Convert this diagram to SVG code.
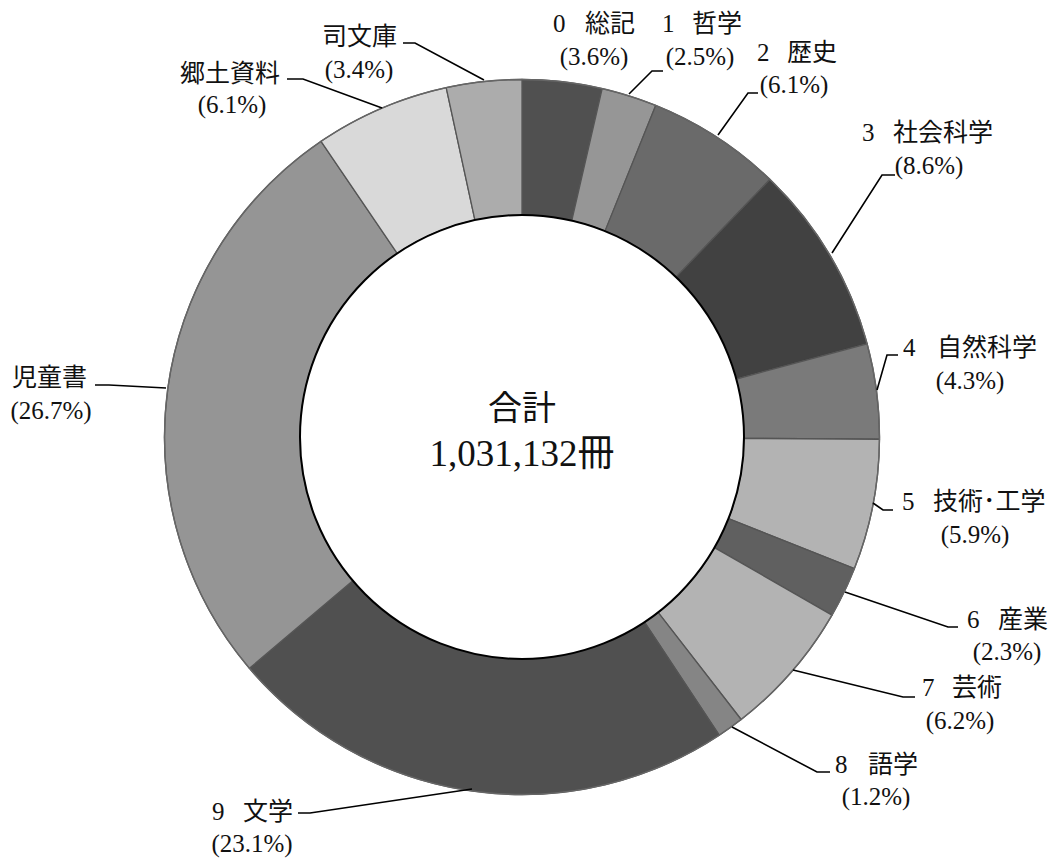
<svg xmlns="http://www.w3.org/2000/svg" width="1057" height="859" viewBox="0 0 1057 859">
<style>
.s{stroke:#555;stroke-width:1.3;stroke-linejoin:round}
.t{font-family:"Liberation Serif","Noto Sans CJK JP",serif;font-size:25px;fill:#111}
.p{font-family:"Liberation Serif","Noto Sans CJK JP",serif;font-size:25px;fill:#111;text-anchor:middle}
.c{font-family:"Liberation Serif","Noto Sans CJK JP",serif;fill:#111;text-anchor:middle}
.ld{fill:none;stroke:#000;stroke-width:1.6}
</style>
<rect width="1057" height="859" fill="#fff"/>
<g id="slice-0">
<path class="s" fill="#505050" d="M522,79.5 A357.5,357.5 0 0 1 602.19,88.62 L571.79,220.66 A222,222 0 0 0 522,215 Z"/>
<text class="t" y="32"><tspan x="553">0 </tspan><tspan x="585">総記</tspan></text>
<text class="p" x="594" y="65">(3.6%)</text>
</g>
<g id="slice-1">
<path class="s" fill="#969696" d="M602.19,88.62 A357.5,357.5 0 0 1 655.71,105.45 L605.03,231.12 A222,222 0 0 0 571.79,220.66 Z"/>
<text class="t" y="32"><tspan x="662">1 </tspan><tspan x="692">哲学</tspan></text>
<text class="p" x="700" y="65">(2.5%)</text>
</g>
<g id="slice-2">
<path class="s" fill="#6a6a6a" d="M655.71,105.45 A357.5,357.5 0 0 1 769.96,179.49 L675.98,277.09 A222,222 0 0 0 605.03,231.12 Z"/>
<text class="t" y="61"><tspan x="757">2 </tspan><tspan x="787">歴史</tspan></text>
<text class="p" x="794" y="93">(6.1%)</text>
</g>
<g id="slice-3">
<path class="s" fill="#414141" d="M769.96,179.49 A357.5,357.5 0 0 1 867.13,343.76 L736.32,379.10 A222,222 0 0 0 675.98,277.09 Z"/>
<text class="t" y="141"><tspan x="862">3 </tspan><tspan x="893">社会科学</tspan></text>
<text class="p" x="929" y="174">(8.6%)</text>
</g>
<g id="slice-4">
<path class="s" fill="#7a7a7a" d="M867.13,343.76 A357.5,357.5 0 0 1 879.49,439.25 L744,438.39 A222,222 0 0 0 736.32,379.10 Z"/>
<text class="t" y="356"><tspan x="903">4 </tspan><tspan x="937">自然科学</tspan></text>
<text class="p" x="970" y="389">(4.3%)</text>
</g>
<g id="slice-5">
<path class="s" fill="#b3b3b3" d="M879.49,439.25 A357.5,357.5 0 0 1 854.40,568.60 L728.42,518.72 A222,222 0 0 0 744,438.39 Z"/>
<text class="t" y="510"><tspan x="902">5 </tspan><tspan x="933">技術･工学</tspan></text>
<text class="p" x="975" y="543">(5.9%)</text>
</g>
<g id="slice-6">
<path class="s" fill="#606060" d="M854.40,568.60 A357.5,357.5 0 0 1 831.99,615.11 L714.45,547.60 A222,222 0 0 0 728.42,518.72 Z"/>
<text class="t" y="628"><tspan x="967">6 </tspan><tspan x="998">産業</tspan></text>
<text class="p" x="1007" y="660">(2.3%)</text>
</g>
<g id="slice-7">
<path class="s" fill="#b3b3b3" d="M831.99,615.11 A357.5,357.5 0 0 1 741.11,719.50 L658.06,612.42 A222,222 0 0 0 714.45,547.60 Z"/>
<text class="t" y="696"><tspan x="922">7 </tspan><tspan x="952">芸術</tspan></text>
<text class="p" x="960" y="729">(6.2%)</text>
</g>
<g id="slice-8">
<path class="s" fill="#858585" d="M741.11,719.50 A357.5,357.5 0 0 1 719.20,735.19 L644.46,622.17 A222,222 0 0 0 658.06,612.42 Z"/>
<text class="t" y="773"><tspan x="835">8 </tspan><tspan x="868">語学</tspan></text>
<text class="p" x="876" y="805">(1.2%)</text>
</g>
<g id="slice-9">
<path class="s" fill="#505050" d="M719.20,735.19 A357.5,357.5 0 0 1 249.44,668.30 L352.77,580.63 A222,222 0 0 0 644.46,622.17 Z"/>
<text class="t" y="820"><tspan x="212">9 </tspan><tspan x="243">文学</tspan></text>
<text class="p" x="252" y="852">(23.1%)</text>
</g>
<g id="slice-jidousho">
<path class="s" fill="#959595" d="M249.44,668.30 A357.5,357.5 0 0 1 321.05,141.31 L397.21,253.38 A222,222 0 0 0 352.77,580.63 Z"/>
<text class="t" x="12" y="386">児童書</text>
<text class="p" x="51" y="419">(26.7%)</text>
</g>
<g id="slice-kyodo">
<path class="s" fill="#d9d9d9" d="M321.05,141.31 A357.5,357.5 0 0 1 446.21,87.62 L474.94,220.04 A222,222 0 0 0 397.21,253.38 Z"/>
<text class="t" x="180" y="82">郷土資料</text>
<text class="p" x="232" y="113">(6.1%)</text>
</g>
<g id="slice-tsukasabunko">
<path class="s" fill="#acacac" d="M446.21,87.62 A357.5,357.5 0 0 1 522,79.5 L522,215 A222,222 0 0 0 474.94,220.04 Z"/>
<text class="t" x="322" y="45">司文庫</text>
<text class="p" x="359" y="78">(3.4%)</text>
</g>
<circle cx="522" cy="437" r="357.5" fill="none" stroke="#666" stroke-width="1.4"/>
<circle cx="522" cy="437" r="222" fill="#fff" stroke="#000" stroke-width="2"/>
<g id="center-label">
<text class="c" x="522" y="420" font-size="34">合計</text>
<text class="c" x="522" y="466" font-size="37">1,031,132冊</text>
</g>
<g id="connectors">
<polyline class="ld" points="403,43 415,43 484,80"/>
<polyline class="ld" points="287,79 303,79 382,108"/>
<polyline class="ld" points="663,71 652,71 629,94"/>
<polyline class="ld" points="758,93 748,93 718,135"/>
<polyline class="ld" points="895,175 882,175 832,253"/>
<polyline class="ld" points="898,355 887,355 877,390"/>
<polyline class="ld" points="893,510 883,510 873,503"/>
<polyline class="ld" points="958,627 948,627 845,592"/>
<polyline class="ld" points="915,697 903,697 793,670"/>
<polyline class="ld" points="830,772 817,772 732,727"/>
<polyline class="ld" points="298,813 310,813 472,789"/>
<polyline class="ld" points="95,385 109,385 166,388"/>
</g>
</svg>
